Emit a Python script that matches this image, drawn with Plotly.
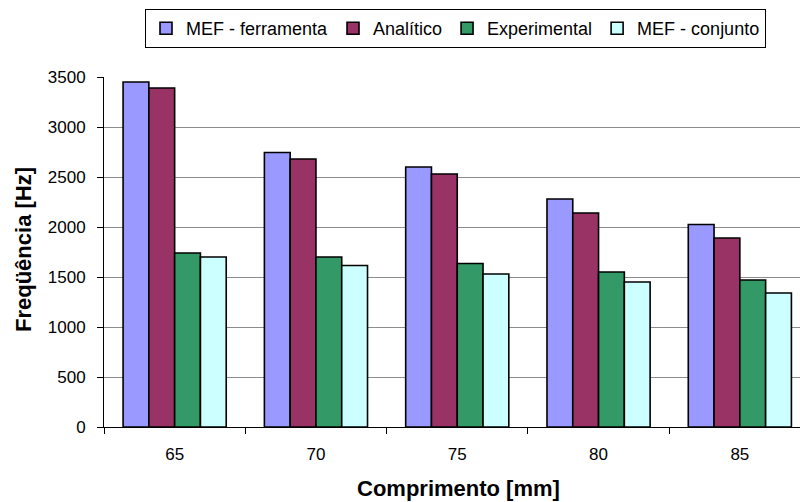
import plotly.graph_objects as go

categories = ["65", "70", "75", "80", "85"]
series_names = ["MEF - ferramenta", "Analítico", "Experimental", "MEF - conjunto"]
mef_ferramenta = [3450, 2745, 2600, 2280, 2025]
analitico = [3390, 2680, 2530, 2140, 1890]
experimental = [1740, 1700, 1635, 1550, 1470]
mef_conjunto = [1700, 1615, 1530, 1450, 1340]
colors = ["#9999FF", "#993366", "#339966", "#CCFFFF"]
y_ticks = [0, 500, 1000, 1500, 2000, 2500, 3000, 3500]

FONT = "Arial, Liberation Sans, sans-serif"

fig = go.Figure()
for name, vals, col in zip(series_names,
                           [mef_ferramenta, analitico, experimental, mef_conjunto],
                           colors):
    fig.add_trace(go.Bar(x=categories, y=vals, name=name,
                         marker=dict(color=col, line=dict(color="black", width=1.6))))

L, T, B = 104, 77, 75
W, H = 800, 502
plot_w = W - L
cat_px = 141.3
x_end = -0.5 + plot_w / cat_px

fig.update_layout(
    width=W, height=H,
    margin=dict(l=L, r=0, t=T, b=B, pad=0),
    paper_bgcolor="white", plot_bgcolor="white",
    font=dict(family=FONT, size=17, color="black"),
    barmode="group", bargap=0.27, bargroupgap=0,
    showlegend=True,
    legend=dict(orientation="h", x=(145 - L) / plot_w, xanchor="left",
                y=(H - B - 9) / (H - T - B), yanchor="top",
                bordercolor="black", borderwidth=1,
                font=dict(family=FONT, size=18, color="black"),
                itemwidth=30, tracegroupgap=0,
                traceorder="normal"),
    xaxis=dict(type="category", range=[-0.5, x_end],
               showline=True, linecolor="black", linewidth=1,
               ticks="outside", tickson="boundaries", ticklen=6,
               tickcolor="black", tickwidth=1,
               ticklabelstandoff=12,
               showgrid=False, zeroline=False,
               tickfont=dict(family=FONT, size=17)),
    yaxis=dict(range=[0, 3500], tickvals=y_ticks,
               showline=True, linecolor="black", linewidth=1,
               ticks="outside", ticklen=6, tickcolor="black", tickwidth=1,
               ticklabelstandoff=8,
               showgrid=True, gridcolor="#8c8c8c", gridwidth=1,
               zeroline=False,
               tickfont=dict(family=FONT, size=17)),
    annotations=[
        dict(text="<b>Comprimento [mm]</b>", xref="paper", yref="paper",
             x=(458 - L) / plot_w, y=(H - B - 489) / (H - T - B),
             xanchor="center", yanchor="middle", showarrow=False,
             font=dict(family=FONT, size=22, color="black")),
        dict(text="<b>Freqüência [Hz]</b>", xref="paper", yref="paper",
             x=(23 - L) / plot_w, y=(H - B - 250) / (H - T - B),
             xanchor="center", yanchor="middle", showarrow=False, textangle=-90,
             font=dict(family=FONT, size=22, color="black")),
    ],
)

fig.write_html("out.html")
